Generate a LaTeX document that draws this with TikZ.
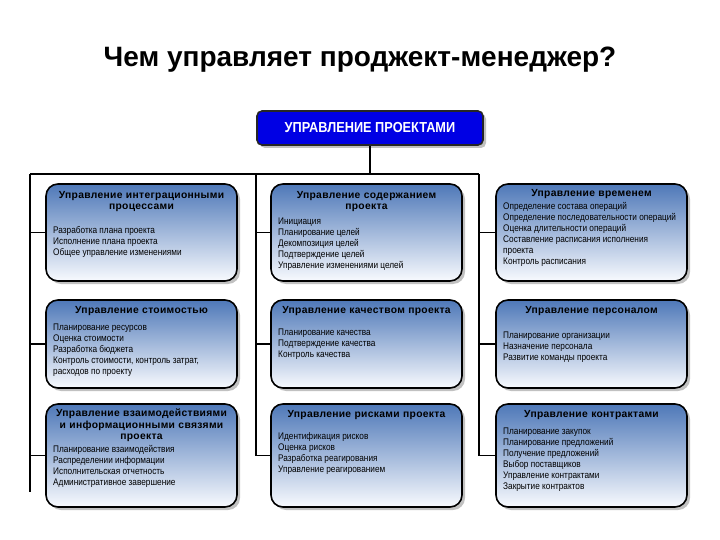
\documentclass[tikz,border=0pt]{standalone}
\usepackage{fontspec}
\setmainfont{Liberation Sans}
\newfontfamily\narrowfont[FakeStretch=0.86]{Liberation Sans}
\newfontfamily\headfont[LetterSpace=3]{Liberation Sans}
\newfontfamily\capsfont[FakeStretch=0.88]{Liberation Sans}
\usetikzlibrary{shadows}
\definecolor{topblue}{RGB}{0,0,228}
\definecolor{steel}{RGB}{78,120,184}
\definecolor{paleblue}{RGB}{248,250,254}
\begin{document}
\begin{tikzpicture}[x=1pt,y=-1pt,
    area/.style={draw=black,line width=1.6pt,rounded corners=12pt,minimum width=191pt,
      top color=steel,bottom color=paleblue,
      drop shadow={shadow xshift=3pt,shadow yshift=-3pt,fill=gray!70,opacity=.7}},
    head/.style={anchor=north,inner sep=0pt,align=center,text width=186pt,
      font=\headfont\bfseries\fontsize{10.3}{11.5}\selectfont},
    body/.style={anchor=north west,inner sep=0pt,align=left,
      font=\narrowfont\fontsize{9.6}{11}\selectfont},
    link/.style={line width=1.6pt}]
      \useasboundingbox (0,0) rectangle (720,540);
      \node[font=\bfseries\fontsize{28}{32}\selectfont] (title) at (360,60) {Чем управляет проджект-менеджер?};
      \node[draw=black!85,line width=1.6pt,fill=topblue,rounded corners=5pt,minimum width=226pt,minimum height=34pt,
        text=white,font=\capsfont\bfseries\fontsize{14.5}{16}\selectfont,
        drop shadow={shadow xshift=3pt,shadow yshift=-3pt,fill=gray!70,opacity=.7}] (top) at (370,128) {УПРАВЛЕНИЕ ПРОЕКТАМИ};
      \coordinate (hl) at (30,174);
      \coordinate (hm) at (256,174);
      \coordinate (hr) at (479,174);
      \coordinate (end1) at (30,492);
      \node[area,minimum height=97pt] (b11) at (141.5,232.5) {};
      \node[area,minimum height=97pt] (b12) at (366.5,232.5) {};
      \node[area,minimum height=97pt] (b13) at (591.5,232.5) {};
      \node[area,minimum height=88pt] (b21) at (141.5,344) {};
      \node[area,minimum height=88pt] (b22) at (366.5,344) {};
      \node[area,minimum height=88pt] (b23) at (591.5,344) {};
      \node[area,minimum height=103pt] (b31) at (141.5,455.5) {};
      \node[area,minimum height=103pt] (b32) at (366.5,455.5) {};
      \node[area,minimum height=103pt] (b33) at (591.5,455.5) {};
      \draw[link] (top.south) -- (top.south |- hl);
      \draw[link] (hl) -- (hr);
      \draw[link] (hl) -- (end1);
      \draw[link] (hm) |- (b32.west);
      \draw[link] (hr) |- (b33.west);
      \draw[link] (b11.west -| hl) -- (b11.west);
      \draw[link] (b21.west -| hl) -- (b21.west);
      \draw[link] (b31.west -| hl) -- (b31.west);
      \draw[link] (b12.west -| hm) -- (b12.west);
      \draw[link] (b22.west -| hm) -- (b22.west);
      \draw[link] (b13.west -| hr) -- (b13.west);
      \draw[link] (b23.west -| hr) -- (b23.west);
      \node[head] (h11) at (141.5,191) {Управление интеграционными\\процессами};
      \node[head] (h12) at (366.5,191) {Управление содержанием\\проекта};
      \node[head] (h13) at (591.5,189.5) {Управление временем};
      \node[head] (h21) at (141.5,306) {Управление стоимостью};
      \node[head] (h22) at (366.5,306) {Управление качеством проекта};
      \node[head] (h23) at (591.5,306) {Управление персоналом};
      \node[head] (h31) at (141.5,409) {Управление взаимодействиями\\и информационными связями\\проекта};
      \node[head] (h32) at (366.5,410) {Управление рисками проекта};
      \node[head] (h33) at (591.5,410) {Управление контрактами};
      \node[body] (t11) at (53,226) {Разработка плана проекта\\Исполнение плана проекта\\Общее управление изменениями};
      \node[body] (t12) at (278,218) {Инициация\\Планирование целей\\Декомпозиция целей\\Подтверждение целей\\Управление изменениями целей};
      \node[body] (t13) at (503,202) {Определение состава операций\\Определение последовательности операций\\Оценка длительности операций\\Составление расписания исполнения\\проекта\\Контроль расписания};
      \node[body] (t21) at (53,324) {Планирование ресурсов\\Оценка стоимости\\Разработка бюджета\\Контроль стоимости, контроль затрат,\\расходов по проекту};
      \node[body] (t22) at (278,329) {Планирование качества\\Подтверждение качества\\Контроль качества};
      \node[body] (t23) at (503,332) {Планирование организации\\Назначение персонала\\Развитие команды проекта};
      \node[body] (t31) at (53,445) {Планирование взаимодействия\\Распределении информации\\Исполнительская отчетность\\Административное завершение};
      \node[body] (t32) at (278,432) {Идентификация рисков\\Оценка рисков\\Разработка реагирования\\Управление реагированием};
      \node[body] (t33) at (503,428) {Планирование закупок\\Планирование предложений\\Получение предложений\\Выбор поставщиков\\Управление контрактами\\Закрытие контрактов};
\end{tikzpicture}
\end{document}
